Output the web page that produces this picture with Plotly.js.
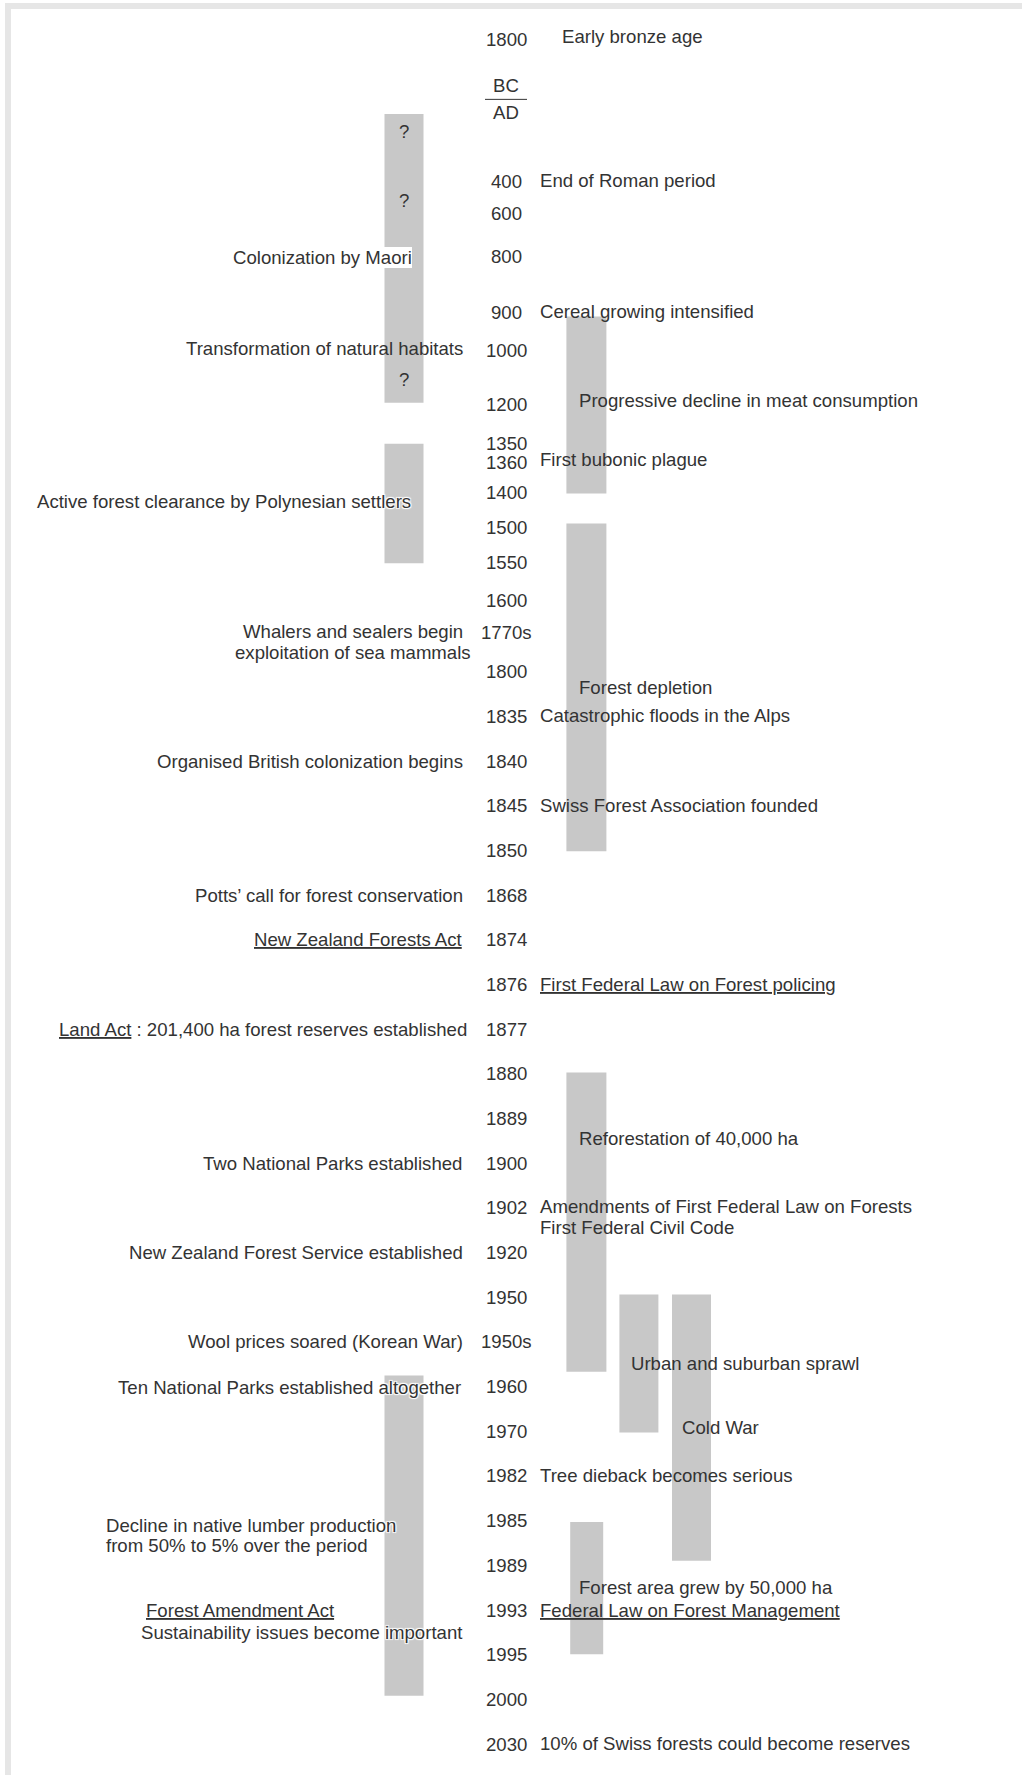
<!DOCTYPE html>
<html>
<head>
<meta charset="utf-8">
<script src="https://cdn.plot.ly/plotly-3.0.1.min.js"></script>
<style>
html,body{margin:0;padding:0;background:#ffffff;}
#chart{width:1022px;height:1775px;}
</style>
</head>
<body>
<div id="chart"></div>
<script>
// ---------------- DATA ----------------
// Timeline: each date label and its slot (row) on the vertical timeline
const yearLabels = ["1800","BC","AD","400","600","800","900","1000","1200","1350","1360","1400","1500","1550","1600","1770s","1800","1835","1840","1845","1850","1868","1874","1876","1877","1880","1889","1900","1902","1920","1950","1950s","1960","1970","1982","1985","1989","1993","1995","2000","2030"];
const yearRows = [-0.16,0.89,1.49,3.02,3.74,4.71,5.96,6.80,8.02,8.89,9.32,9.99,10.78,11.56,12.40,13.13,14,15,16,17,18,19,20,21,22,23,24,25,26,27,28,29,30,31,32,33,34,35,36,37,38];

// New Zealand events (left side)
const nzText = [
  "Colonization by Maori",
  "Transformation of natural habitats",
  "Active forest clearance by Polynesian settlers",
  "Whalers and sealers begin",
  "exploitation of sea mammals",
  "Organised British colonization begins",
  "Potts\u2019 call for forest conservation",
  "<u>New Zealand Forests Act</u>",
  "<u>Land Act</u> : 201,400 ha forest reserves established",
  "Two National Parks established",
  "New Zealand Forest Service established",
  "Wool prices soared (Korean War)",
  "Ten National Parks established altogether",
  "Decline in native lumber production",
  "from 50% to 5% over the period",
  "<u>Forest Amendment Act</u>",
  "Sustainability issues become important"
];
const nzRow = [4.73,6.76,10.19,13.10,13.56,16,19,20,22,25,27,29,30.03,33.10,33.56,35.0,35.5];

// New Zealand periods (left bars) and uncertainty marks
const nzPeriodStart = [1.52, 8.90, 29.75];
const nzPeriodEnd   = [7.98, 11.57, 36.92];
const uncertainRows = [1.91, 3.46, 7.47];

// Switzerland events (right side)
const chText = [
  "Early bronze age",
  "End of Roman period",
  "Cereal growing intensified",
  "First bubonic plague",
  "Catastrophic floods in the Alps",
  "Swiss Forest Association founded",
  "<u>First Federal Law on Forest policing</u>",
  "Amendments of First Federal Law on Forests",
  "First Federal Civil Code",
  "Tree dieback becomes serious",
  "<u>Federal Law on Forest Management</u>",
  "10% of Swiss forests could become reserves"
];
const chRow = [-0.21,3.0,5.93,9.25,14.98,17.0,21,25.96,26.43,32.0,35.0,37.98];

// Switzerland periods (right bars)
const chPeriodLabel = ["Progressive decline in meat consumption","Forest depletion","Reforestation of 40,000 ha","Urban and suburban sprawl","Cold War","Forest area grew by 50,000 ha"];
const chPeriodStart = [6.05,10.68,22.97,27.94,27.94,33.03];
const chPeriodEnd   = [10.01,18.02,29.67,31.03,33.90,35.99];
const chPeriodLabelRow = [7.92,14.36,24.45,29.49,30.92,34.5];
const chPeriodLane = ["main","main","main","sprawl","war","narrow"];

// ---------------- LAYOUT / STYLE ----------------
const TXT = "#333333";
const BAR = "#c8c8c8";
const FONT = "Liberation Sans, Arial, sans-serif";
const FS = 18.6;
const rowPx = 44.68, row0Px = 46.2, H = 1775, W = 1022;

const yearX = 506;
const nzLane = {center: 404, width: 39};
const lanes = {
  main:   {center: 586.4, width: 40, labelX: 579},
  narrow: {center: 586.7, width: 33, labelX: 579},
  sprawl: {center: 638.9, width: 39, labelX: 631},
  war:    {center: 691.5, width: 39, labelX: 682}
};
// placement of each left-side label: [x, anchor, extra]
const nzPlace = [
  [412,"right","box"],[463,"right"],[411,"right","glow"],[353,"center"],[353,"center"],
  [463,"right"],[463,"right"],[463,"right"],[467,"right"],[462,"right"],[463,"right"],
  [463,"right"],[461,"right","glow"],[105.6,"left","glow"],[105.6,"left"],[146,"left"],[463,"right","glow"]
];
const chPlace = chText.map((t,i)=> i===0 ? 562 : 540);

const glow = "1px 1px 1px #fff, -1px -1px 1px #fff, 1px -1px 1px #fff, -1px 1px 1px #fff";

function ann(text, x, y, anchor, extra){
  const a = {
    text: text, x: x, y: y, xref: "x", yref: "y",
    xanchor: anchor, yanchor: "middle", showarrow: false,
    align: anchor === "center" ? "center" : anchor,
    borderpad: 0, borderwidth: 0,
    font: {family: FONT, size: FS, color: TXT}
  };
  if (extra === "box") a.bgcolor = "#ffffff";
  if (extra === "glow") a.font.shadow = glow;
  return a;
}

const annotations = [];
yearLabels.forEach((t,i)=> annotations.push(ann(t, yearX, yearRows[i], "center")));
nzText.forEach((t,i)=> annotations.push(ann(t, nzPlace[i][0], nzRow[i], nzPlace[i][1], nzPlace[i][2])));
chText.forEach((t,i)=> annotations.push(ann(t, chPlace[i], chRow[i], "left")));
chPeriodLabel.forEach((t,i)=> annotations.push(ann(t, lanes[chPeriodLane[i]].labelX, chPeriodLabelRow[i], "left")));
uncertainRows.forEach(r=> annotations.push(ann("?", nzLane.center, r, "center")));

const traces = [
  {
    type: "bar", orientation: "v",
    x: nzPeriodStart.map(()=> nzLane.center),
    base: nzPeriodStart,
    y: nzPeriodEnd.map((e,i)=> e - nzPeriodStart[i]),
    width: nzPeriodStart.map(()=> nzLane.width),
    marker: {color: BAR, line: {width: 0}},
    hoverinfo: "skip"
  },
  {
    type: "bar", orientation: "v",
    x: chPeriodLane.map(l=> lanes[l].center),
    base: chPeriodStart,
    y: chPeriodEnd.map((e,i)=> e - chPeriodStart[i]),
    width: chPeriodLane.map(l=> lanes[l].width),
    marker: {color: BAR, line: {width: 0}},
    hoverinfo: "skip"
  }
];

const bcIdx = yearLabels.indexOf("BC"), adIdx = yearLabels.indexOf("AD");
const shapes = [
  // BC / AD divider
  {type: "line", xref: "x", yref: "y", x0: 485, x1: 527,
   y0: (yearRows[bcIdx]+yearRows[adIdx])/2, y1: (yearRows[bcIdx]+yearRows[adIdx])/2,
   line: {color: TXT, width: 1}},
  // frame bands
  {type: "rect", xref: "paper", yref: "paper", x0: 5/W, x1: 1, y0: 1-9/H, y1: 1-3/H,
   fillcolor: "#e6e6e6", line: {width: 0}, layer: "below"},
  {type: "rect", xref: "paper", yref: "paper", x0: 5/W, x1: 11/W, y0: 0, y1: 1-3/H,
   fillcolor: "#e6e6e6", line: {width: 0}, layer: "below"}
];

const layout = {
  width: W, height: H,
  margin: {l: 0, r: 0, t: 0, b: 0, pad: 0},
  paper_bgcolor: "#ffffff", plot_bgcolor: "#ffffff",
  showlegend: false,
  barmode: "overlay",
  xaxis: {range: [0, W], visible: false, fixedrange: true},
  yaxis: {range: [(H - row0Px)/rowPx, -row0Px/rowPx], visible: false, fixedrange: true},
  annotations: annotations,
  shapes: shapes,
  font: {family: FONT, color: TXT}
};

Plotly.newPlot("chart", traces, layout, {displayModeBar: false, staticPlot: true});
</script>
</body>
</html>
